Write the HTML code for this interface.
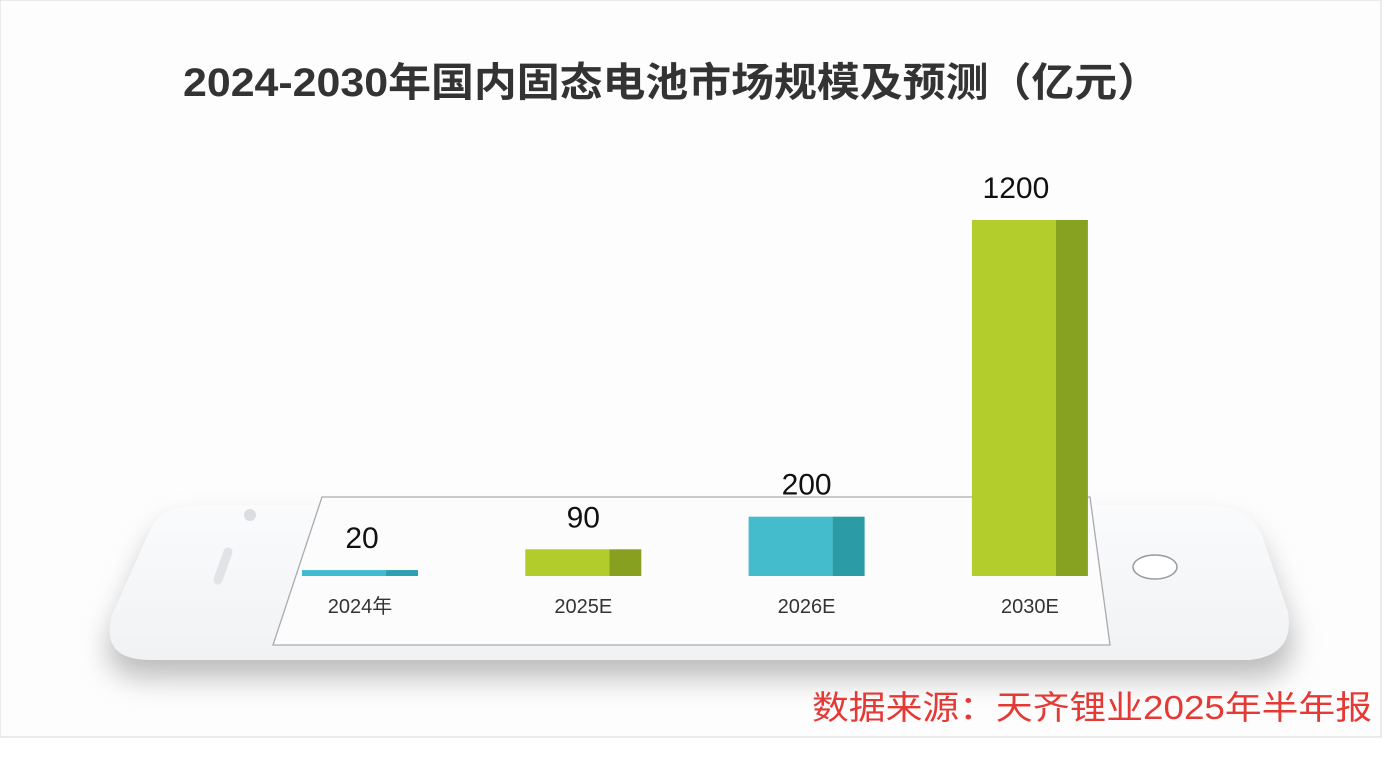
<!DOCTYPE html>
<html><head><meta charset="utf-8"><style>
html,body{margin:0;padding:0;background:#fff;}
svg{display:block;}
</style></head><body>
<svg id="chart" width="1384" height="762" xmlns="http://www.w3.org/2000/svg">
<defs>
<filter id="sh" x="-10%" y="-30%" width="120%" height="180%"><feGaussianBlur stdDeviation="14"/></filter>
<linearGradient id="body" x1="0" y1="0" x2="0" y2="1"><stop offset="0" stop-color="#fafbfc"/><stop offset="1" stop-color="#f1f2f4"/></linearGradient>
</defs>
<rect x="0" y="0" width="1381" height="737" fill="#fdfdfd" stroke="#d8d8d8"/>
<text x="183" y="96" textLength="977" lengthAdjust="spacingAndGlyphs" font-family="'Liberation Sans','Noto Sans CJK SC',sans-serif" font-size="40" font-weight="bold" fill="#333">2024-2030年国内固态电池市场规模及预测（亿元）</text>
<g>
<path d="M150,660 L1260,660 Q1300,655 1290,610 L1260,530 Q1245,505 1200,505 L200,505 Q160,505 150,530 L110,620 Q100,660 150,660 Z" fill="#888" opacity="0.55" filter="url(#sh)" transform="translate(0,18)"/>
<path d="M150,660 L1250,660 Q1295,655 1288,612 L1262,535 Q1248,505 1205,505 L200,505 Q162,505 150,530 L112,615 Q100,660 150,660 Z" fill="url(#body)"/>
<circle cx="250" cy="515" r="6" fill="#dcdde0"/>
<line x1="228" y1="552" x2="218" y2="580" stroke="#e2e3e6" stroke-width="9" stroke-linecap="round"/>
<ellipse cx="1155" cy="567" rx="22" ry="12" fill="#fff" stroke="#9a9a9a" stroke-width="1.5"/>
<path d="M322,497 L1090,497 L1110,645 L273,645 Z" fill="#fcfcfd" stroke="#a9abaf" stroke-width="1.3"/>
</g>
<g id="bars"></g>
<text x="812" y="719" textLength="560" lengthAdjust="spacingAndGlyphs" font-family="'Liberation Sans','Noto Sans CJK SC',sans-serif" font-size="33" fill="#e53935">数据来源：天齐锂业2025年半年报</text>
</svg>
<script>
const categories=["2024年","2025E","2026E","2030E"];
const values=[20,90,200,1200];
const labels=["20","90","200","1200"];
const colorsFront=["#3fbcd0","#b2cc2b","#45bccb","#b3cd2c"];
const colorsSide=["#2aa0b2","#88a020","#2b9ca6","#87a121"];
const baseY=576, pxPer=356/1200;
const yScale=v=>baseY-v*pxPer;
const xLeft=i=>302+i*223.3;
const g=document.getElementById('bars');
const NS='http://www.w3.org/2000/svg';
categories.forEach((c,i)=>{
  const x=xLeft(i), y=yScale(values[i]), h=baseY-y;
  const f=document.createElementNS(NS,'rect');
  f.setAttribute('x',x);f.setAttribute('y',y);f.setAttribute('width',84);f.setAttribute('height',h);f.setAttribute('fill',colorsFront[i]);
  
  
  g.appendChild(f);
  const s=document.createElementNS(NS,'rect');
  s.setAttribute('x',x+84);s.setAttribute('y',y);s.setAttribute('width',32);s.setAttribute('height',h);s.setAttribute('fill',colorsSide[i]);
  
  
  g.appendChild(s);
  const t=document.createElementNS(NS,'text');
  t.setAttribute('x',x+(i==0?60:i==3?44:58));t.setAttribute('y',y-22);t.setAttribute('text-anchor','middle');
  t.setAttribute('font-family',"'Liberation Sans',sans-serif");t.setAttribute('font-size','30');t.setAttribute('fill','#111');
  t.textContent=labels[i];
  
  
  g.appendChild(t);
  const l=document.createElementNS(NS,'text');
  l.setAttribute('x',x+58);l.setAttribute('y',613);l.setAttribute('text-anchor','middle');
  l.setAttribute('font-family',"'Liberation Sans','Noto Sans CJK SC',sans-serif");l.setAttribute('font-size','20');l.setAttribute('fill','#333');
  l.textContent=c;
  
  
  g.appendChild(l);
});
</script>
</body></html>
